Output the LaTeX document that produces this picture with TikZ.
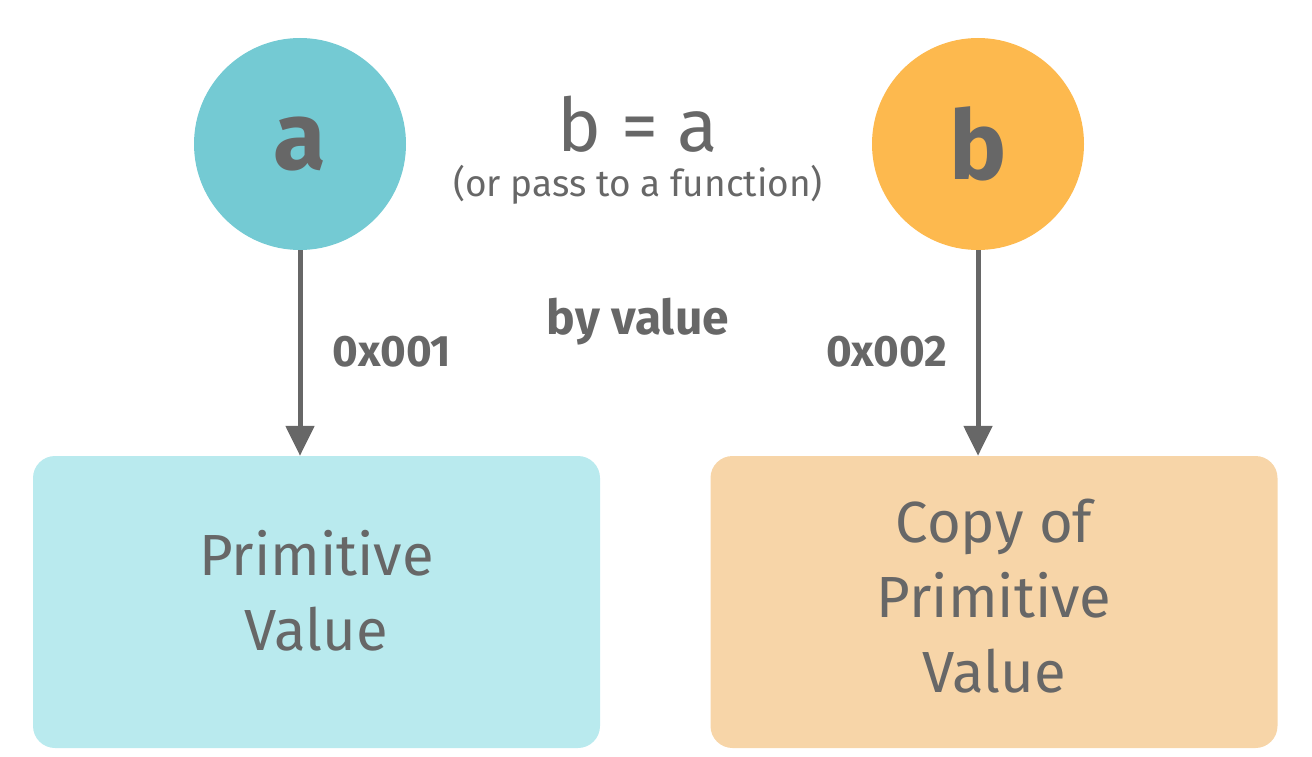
\documentclass[tikz,border=0pt]{standalone}
\usepackage{fontspec}
\setmainfont{Fira Sans}
\usetikzlibrary{arrows.meta}

\definecolor{inkgray}{HTML}{676767}
\definecolor{tealdark}{HTML}{74CAD3}
\definecolor{teallight}{HTML}{B9EAEE}
\definecolor{orangedark}{HTML}{FDB94E}
\definecolor{orangelight}{HTML}{F7D5A8}

\begin{document}
\begin{tikzpicture}[x=1pt,y=-1pt]%
\tikzstyle{varcircle} = [circle, minimum size=212pt, inner sep=0pt,
    text=inkgray, font=\fontsize{96}{96}\selectfont\bfseries]
\tikzstyle{valuebox} = [rectangle, rounded corners=22pt, minimum width=567pt,
    minimum height=292pt, align=center, text=inkgray,
    font=\fontsize{58}{75}\selectfont]
\tikzstyle{addrlabel} = [text=inkgray, font=\fontsize{44}{44}\selectfont\bfseries]
\tikzstyle{pointer} = [draw=inkgray, line width=5pt,
    -{Triangle[width=28pt,length=30pt]}]

\useasboundingbox (0,0) rectangle (1312,757);

\node [varcircle, fill=tealdark] (a) at (300,144) {a};
\node [varcircle, fill=orangedark] (b) at (978,144) {b};

\node [text=inkgray, font=\fontsize{74}{74}\selectfont] (assign) at (638,124) {b = a};
\node [text=inkgray, font=\fontsize{37}{37}\selectfont] (pass) at (638,185) {(or pass to a function)};
\node [text=inkgray, font=\fontsize{48}{48}\selectfont\bfseries] (byval) at (638,322) {by value};

\node [valuebox, fill=teallight] (prima) at (316.5,602) {Primitive\\Value\\[-52pt]};
\node [valuebox, fill=orangelight] (primb) at (994,602) {Copy of\\Primitive\\Value\\[-62pt]};

\node [addrlabel] (addra) at (392,352) {0x001};
\node [addrlabel] (addrb) at (887,352) {0x002};

\draw [pointer] (a.south) -- (a.south |- prima.north);
\draw [pointer] (b.south) -- (b.south |- primb.north);
\end{tikzpicture}
\end{document}
